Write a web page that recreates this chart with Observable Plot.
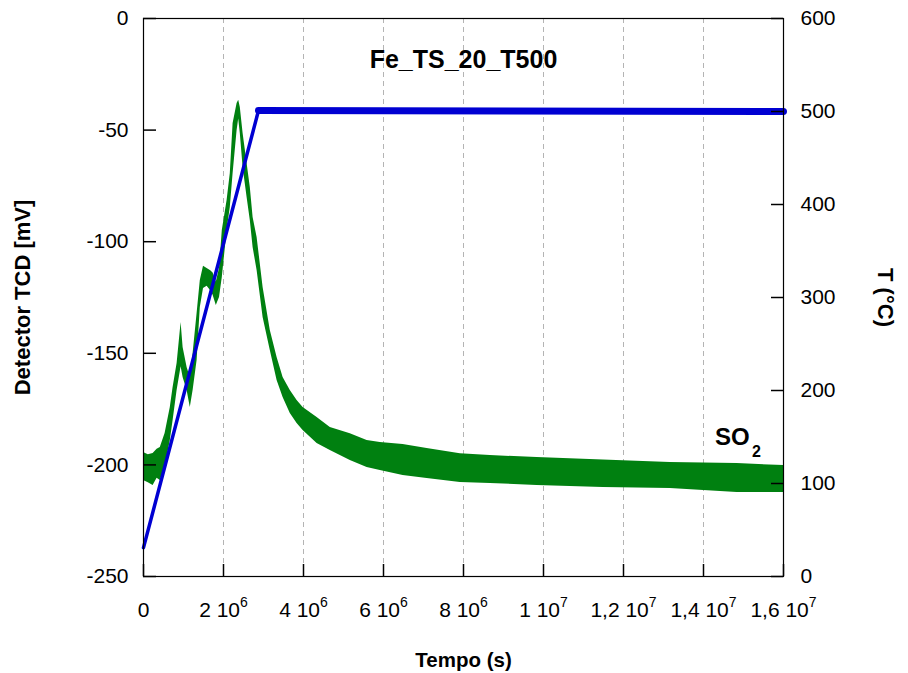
<!DOCTYPE html>
<html><head><meta charset="utf-8">
<script src="https://cdn.jsdelivr.net/npm/d3@7"></script>
<script src="https://cdn.jsdelivr.net/npm/@observablehq/plot@0.6"></script>
<style>body{margin:0;background:#fff}</style>
</head><body><div id="chart"></div>
<script>
// SO2 detector signal (time in 1e6 s; noise envelope lower / upper in mV)
const so2Time = [0.00,0.12,0.24,0.34,0.42,0.54,0.67,0.74,0.84,0.94,0.99,1.09,1.17,1.24,1.34,1.42,1.50,1.59,1.68,1.74,1.82,1.90,1.97,2.09,2.17,2.24,2.34,2.38,2.42,2.49,2.59,2.67,2.74,2.84,2.99,3.17,3.34,3.49,3.67,3.84,3.99,4.34,4.67,5.17,5.59,5.92,6.49,7.09,7.92,8.67,9.84,11.49,13.17,14.84,16.00];
const so2Low  = [-207.0,-208.0,-209.2,-206.0,-207.0,-201.2,-189.1,-180.1,-166.7,-156.0,-160.8,-166.7,-174.3,-166.7,-153.2,-129.5,-121.0,-120.0,-122.0,-124.0,-128.6,-125.0,-116.0,-95.0,-84.7,-69.4,-50.2,-45.0,-51.5,-66.8,-80.2,-90.5,-102.6,-112.9,-134.0,-148.7,-162.2,-169.8,-177.0,-181.5,-184.6,-190.4,-193.5,-198.0,-201.2,-202.5,-204.7,-206.1,-207.9,-208.3,-209.2,-210.1,-210.6,-212.4,-212.4];
const so2High = [-194.4,-195.5,-194.9,-193.0,-192.2,-185.9,-174.3,-165.3,-154.6,-136.2,-147.4,-156.4,-160.8,-150.1,-132.2,-117.4,-111.0,-112.0,-113.0,-114.0,-118.0,-112.0,-95.0,-81.5,-69.4,-47.0,-38.1,-36.6,-39.9,-51.5,-65.0,-75.7,-89.2,-98.1,-120.5,-139.8,-151.9,-160.8,-166.7,-171.1,-174.3,-178.8,-183.2,-186.0,-189.1,-190.0,-190.9,-192.7,-195.0,-195.8,-196.7,-197.8,-198.9,-199.4,-200.3];

// Temperature (time in 1e6 s, °C)
const tempTime  = [0, 2.875, 16];
const tempValue = [31, 501, 500];

// Axes
const xTicks = [0, 2, 4, 6, 8, 10, 12, 14, 16];
const xTickBase = ["0", "2 10", "4 10", "6 10", "8 10", "1 10", "1,2 10", "1,4 10", "1,6 10"];
const xTickExp  = ["", "6", "6", "6", "6", "7", "7", "7", "7"];
const mvTicks = [-250, -200, -150, -100, -50, 0];
const tempTicks = [0, 100, 200, 300, 400, 500, 600];

const toMV = T => T * 250 / 600 - 250;
const fromMV = v => Math.round((v + 250) * 600 / 250);

const so2 = so2Time.map((t, i) => ({t, lo: so2Low[i], hi: so2High[i]}));
const temp = tempTime.map((t, i) => ({t, mv: toMV(tempValue[i])}));

const W = 908, H = 673, ML = 143, MR = 125, MT = 18, MB = 97;
const innerW = W - ML - MR, innerH = H - MT - MB;

const green = "#008010", blue = "#0000d2";
const font = "'Liberation Sans', Arial, Helvetica, sans-serif";

const chart = Plot.plot({
  width: W,
  height: H,
  marginLeft: ML,
  marginRight: MR,
  marginTop: MT,
  marginBottom: MB,
  style: {fontFamily: font, fontSize: "21px", color: "black", background: "white"},
  x: {domain: [0, 16]},
  y: {domain: [-250, 0]},
  marks: [
    Plot.gridX(xTicks.slice(1, -1), {stroke: "#b4b4b4", strokeOpacity: 1, strokeDasharray: "5,4"}),
    Plot.areaY(so2, {x: "t", y1: "lo", y2: "hi", fill: green}),
    Plot.line(temp, {x: "t", y: "mv", stroke: blue, strokeWidth: 3.5}),
    Plot.line(temp.slice(1), {x: "t", y: "mv", stroke: blue, strokeWidth: 7}),
    Plot.frame({stroke: "black", strokeWidth: 1.2}),
    // inward ticks
    Plot.tickX(xTicks, {x: d => d, insetTop: innerH - 12, stroke: "black", strokeWidth: 1.5}),
    Plot.tickY(mvTicks, {y: d => d, insetRight: innerW - 13, stroke: "black", strokeWidth: 1.5}),
    Plot.tickY(tempTicks.map(toMV), {y: d => d, insetLeft: innerW - 12, stroke: "black", strokeWidth: 1.5}),
    // tick labels
    Plot.axisX(xTicks, {tickSize: 0, tickPadding: 26, tickFormat: (d) => xTickBase[xTicks.indexOf(d)], label: null, className: "xlab"}),
    Plot.axisY(mvTicks, {anchor: "left", tickSize: 0, tickPadding: 15, tickFormat: d => String(d), label: null}),
    Plot.axisY(tempTicks.map(toMV), {anchor: "right", tickSize: 0, tickPadding: 17, tickFormat: d => String(fromMV(d)), label: null}),
    // axis titles and annotations
    Plot.text(["Detector TCD [mV]"], {frameAnchor: "left", dx: -121, rotate: -90, textAnchor: "middle", lineAnchor: "middle", fontWeight: "bold", fontSize: 22, fill: "black"}),
    Plot.text(["T (°C)"], {frameAnchor: "right", dx: 102, rotate: 90, textAnchor: "middle", lineAnchor: "middle", fontWeight: "bold", fontSize: 22, fill: "black"}),
    Plot.text(["Tempo (s)"], {frameAnchor: "bottom", dy: 84, lineAnchor: "middle", fontWeight: "bold", fontSize: 20.5, fill: "black"}),
    Plot.text(["Fe_TS_20_T500"], {frameAnchor: "top", dy: 41, lineAnchor: "middle", fontWeight: "bold", fontSize: 25, fill: "black"}),
    Plot.text([{x: 14.29, y: -191.3}], {x: "x", y: "y", text: () => "SO", textAnchor: "start", lineAnchor: "bottom", fontWeight: "bold", fontSize: 24, fill: "black"}),
    Plot.text([{x: 14.29, y: -191.3}], {x: "x", y: "y", text: () => "2", textAnchor: "start", lineAnchor: "bottom", dx: 37, dy: 12, fontWeight: "bold", fontSize: 16, fill: "black"})
  ]
});

// add superscript exponents to the x tick labels
chart.querySelectorAll("g.xlab text").forEach(t => {
  const i = xTickBase.indexOf(t.textContent);
  if (i < 0 || !xTickExp[i]) return;
  const sup = document.createElementNS("http://www.w3.org/2000/svg", "tspan");
  sup.setAttribute("font-size", "14");
  sup.setAttribute("dy", "-10");
  sup.textContent = xTickExp[i];
  t.appendChild(sup);
});
document.getElementById("chart").appendChild(chart);
</script>
</body></html>
